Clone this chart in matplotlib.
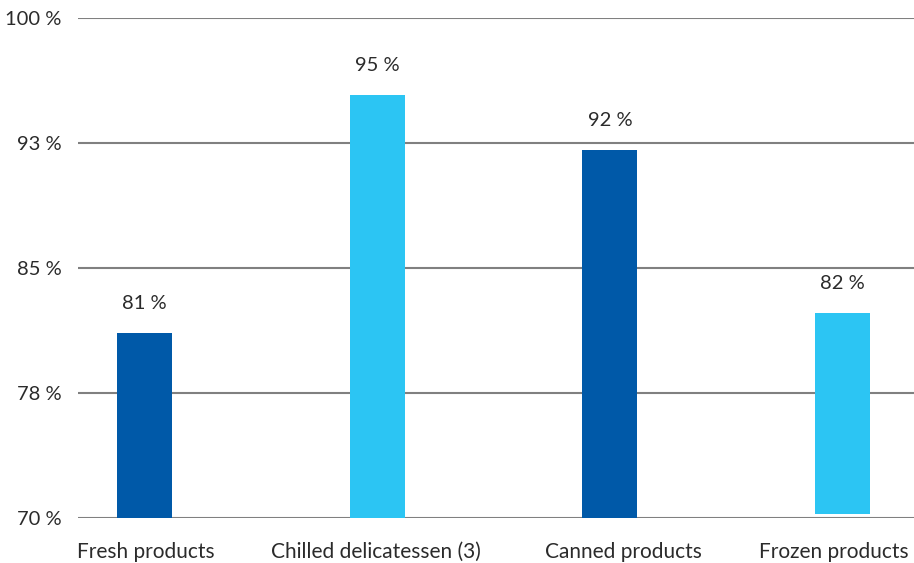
import matplotlib.pyplot as plt
import matplotlib.transforms as mtransforms
import numpy as np

categories = ['Fresh products', 'Chilled delicatessen (3)', 'Canned products', 'Frozen products']
values = [81.1, 95.4, 92.1, 82.3]
bar_labels = ['81 %', '95 %', '92 %', '82 %']
bottoms = [70, 70, 70, 70.25]
yticks = [70, 77.5, 85, 92.5, 100]
ytick_labels = ['70 %', '78 %', '85 %', '93 %', '100 %']

plt.rcParams['font.family'] = ['Lato', 'DejaVu Sans']
text_color = '#2b2b2b'
colors = ['#0059a8', '#2cc5f3', '#0059a8', '#2cc5f3']

fig = plt.figure(figsize=(9.14, 5.63), dpi=100)
ax = fig.add_axes([78 / 914, 45 / 563, 836 / 914, 500 / 563])

x = np.arange(len(categories))
heights = [v - b for v, b in zip(values, bottoms)]
ax.bar(x, heights, bottom=bottoms, width=0.236, color=colors, zorder=3)

# value labels above bars
for xi, v, lab in zip(x, values, bar_labels):
    ax.annotate(lab, (xi, v), xytext=(0, 15), textcoords='offset points',
                ha='center', va='bottom', fontsize=14.5, color=text_color)

ax.set_xlim(-0.286, 3.307)
ax.set_ylim(70, 100)
ax.set_yticks(yticks)
ax.set_yticklabels(ytick_labels, fontsize=14.5, color=text_color)
ax.set_xticks(x)
ax.set_xticklabels(categories, fontsize=15, color=text_color)
ax.tick_params(axis='both', length=0)
ax.tick_params(axis='y', pad=12)
ax.tick_params(axis='x', pad=17)

# nudge the category labels a little, as in the original layout
shifts = [1, -1, 10, -6]
for lbl, dx in zip(ax.get_xticklabels(), shifts):
    lbl.set_transform(lbl.get_transform() +
                      mtransforms.ScaledTranslation(dx / 72, 0, fig.dpi_scale_trans))

ax.grid(axis='y', color='#808080', linewidth=1.5, zorder=1)
for s in ax.spines.values():
    s.set_visible(False)

plt.savefig('out.png', dpi=100)
plt.close()
